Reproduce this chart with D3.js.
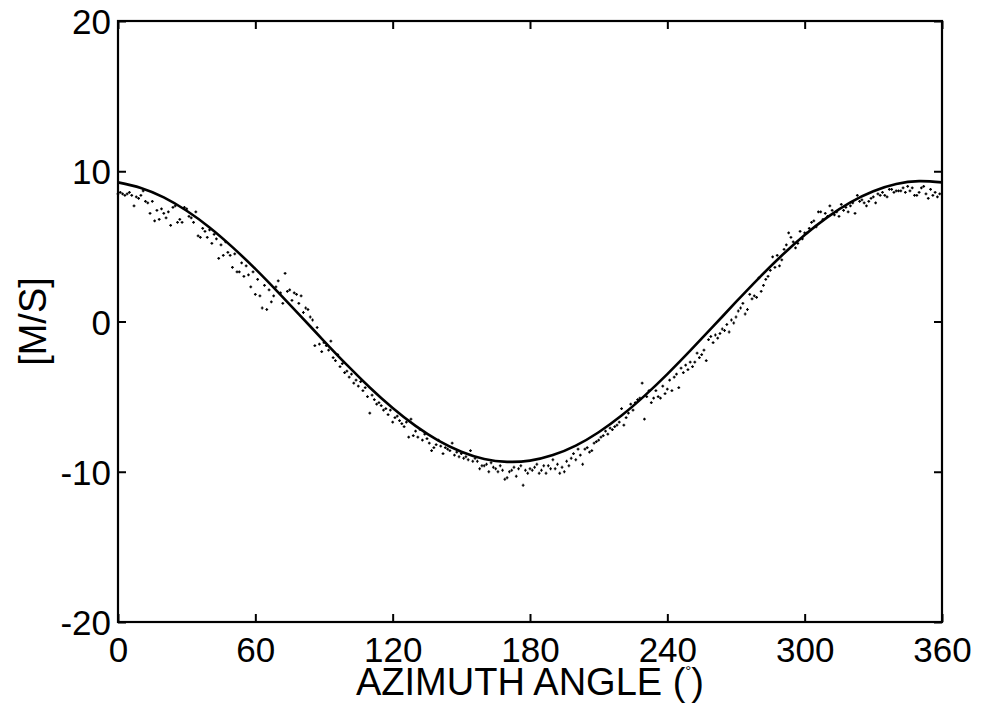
<!DOCTYPE html>
<html lang="en">
<head>
<meta charset="UTF-8">
<title>Azimuth angle vs velocity</title>
<script src="https://d3js.org/d3.v7.min.js"></script>
<style>
body { margin: 0; background: #fff; }
svg { display: block; font-family: "Liberation Sans", Arial, sans-serif; }
.tick-label { font-size: 35px; fill: #000; }
.axis-title { font-size: 38px; fill: #000; }
</style>
</head>
<body>
<svg width="989" height="705"></svg>
<script>
// tick values
const xTicks = [0, 60, 120, 180, 240, 300, 360];
const yTicks = [-20, -10, 0, 10, 20];

// fitted curve, read every 10 degrees (0..360)
const curveAngles = d3.range(0, 361, 10);
const curveValues = [
  9.26, 8.89, 8.26, 7.37, 6.26, 4.95, 3.50, 1.94, 0.33, -1.30,
  -2.89, -4.39, -5.76, -6.95, -7.93, -8.67, -9.15, -9.34, -9.26, -8.89,
  -8.26, -7.37, -6.26, -4.95, -3.50, -1.94, -0.33, 1.30, 2.89, 4.39,
  5.76, 6.95, 7.93, 8.67, 9.15, 9.34, 9.26
];

// measured points, one per degree (0..359)
const pointAngles = d3.range(0, 360, 1);
const pointValues = [
  8.5, 8.6, 8.5, 8.4, 8.5, 8.6, 8.4, 7.7, 8.3, 8.2,
  8.4, 8.7, 8.0, 7.9, 7.2, 8.0, 6.7, 7.4, 6.8, 7.5,
  7.2, 6.9, 7.3, 6.4, 7.6, 7.7, 6.6, 6.8, 6.6, 7.6,
  7.5, 7.0, 6.9, 6.6, 7.3, 5.7, 5.6, 6.2, 6.0, 5.6,
  6.1, 5.2, 5.8, 5.5, 4.2, 5.1, 4.4, 5.3, 4.6, 4.4,
  3.6, 4.5, 3.3, 3.3, 3.9, 3.0, 3.7, 3.1, 2.3, 3.3,
  1.8, 2.8, 1.7, 0.9, 2.4, 0.8, 2.1, 1.3, 1.7, 2.3,
  2.7, 1.9, 1.2, 3.2, 2.0, 2.1, 1.4, 1.9, 1.8, 1.2,
  1.7, 0.6, 0.9, 0.8, 0.3, 0.1, -1.6, -0.4, -1.5, -2.0,
  -1.4, -1.6, -1.9, -1.3, -2.4, -2.6, -2.2, -3.0, -2.8, -3.4,
  -3.3, -3.7, -3.5, -4.1, -3.9, -4.3, -4.0, -4.6, -4.4, -5.0,
  -6.1, -4.9, -5.2, -5.5, -5.4, -5.6, -5.9, -5.8, -6.2, -5.9,
  -6.7, -6.4, -6.3, -6.6, -6.8, -7.0, -6.7, -7.7, -6.5, -7.6,
  -7.3, -7.7, -7.2, -7.9, -7.5, -7.8, -8.1, -8.6, -8.4, -8.2,
  -7.9, -8.3, -8.8, -8.4, -8.5, -8.6, -8.1, -8.9, -8.7, -9.0,
  -8.8, -9.1, -9.0, -9.2, -8.6, -9.3, -9.1, -9.3, -9.8, -9.6,
  -9.6, -9.5, -10.0, -9.4, -9.7, -9.8, -10.0, -9.6, -9.9, -10.5,
  -10.4, -10.0, -9.9, -9.7, -10.3, -9.8, -9.6, -10.9, -9.9, -10.1,
  -9.8, -9.9, -9.7, -9.5, -10.1, -9.9, -9.6, -10.1, -9.6, -9.8,
  -9.2, -9.8, -9.5, -10.1, -9.7, -10.0, -9.3, -9.6, -9.1, -8.8,
  -9.2, -8.5, -8.9, -9.5, -8.5, -8.4, -8.7, -8.6, -8.1, -8.0,
  -7.9, -7.7, -7.6, -7.3, -7.5, -7.1, -7.2, -7.0, -6.9, -6.7,
  -5.8, -6.9, -6.4, -6.1, -5.5, -5.9, -5.4, -5.2, -5.1, -4.1,
  -6.5, -5.0, -4.6, -5.4, -5.1, -4.6, -5.0, -5.1, -4.3, -4.8,
  -4.5, -3.9, -4.6, -3.7, -3.5, -4.4, -3.1, -3.4, -2.9, -3.2,
  -2.7, -3.0, -2.7, -2.1, -2.4, -2.2, -1.9, -2.6, -1.2, -1.0,
  -1.4, -0.9, -1.1, -0.8, -0.5, -0.6, -0.2, -0.7, 0.1, -0.1,
  0.3, 0.7, 0.9, 1.2, 0.5, 0.8, 1.8, 1.5, 1.7, 1.6,
  2.9, 2.0, 2.4, 2.8, 3.0, 3.4, 4.3, 3.6, 4.4, 3.7,
  4.1, 4.8, 5.1, 5.9, 5.6, 5.3, 4.9, 5.2, 6.0, 5.5,
  5.9, 5.9, 6.2, 6.6, 6.7, 6.3, 7.3, 7.3, 6.8, 7.2,
  7.0, 7.7, 7.4, 7.1, 7.3, 7.0, 7.8, 7.4, 7.6, 7.3,
  7.7, 7.9, 7.2, 8.4, 8.0, 8.1, 7.9, 7.7, 8.0, 8.2,
  8.3, 7.9, 8.5, 8.4, 8.6, 8.4, 8.3, 8.8, 8.8, 8.6,
  8.7, 8.7, 8.7, 8.9, 8.6, 9.0, 8.7, 8.9, 8.4, 8.4,
  8.6, 8.9, 9.0, 8.5, 8.2, 8.8, 8.4, 8.6, 8.3, 8.5
];

const svg = d3.select("svg");
const plotLeft = 118, plotRight = 942, plotTop = 21, plotBottom = 622;

const x = d3.scaleLinear().domain([0, 360]).range([plotLeft, plotRight]);
const y = d3.scaleLinear().domain([-20, 20]).range([plotBottom, plotTop]);

// points
svg.append("g")
  .selectAll("path")
  .data(pointAngles.map((a, i) => [a, pointValues[i]]))
  .join("path")
    .attr("transform", d => `translate(${x(d[0])},${y(d[1])})`)
    .attr("d", "M-1.4,0H1.4M0,-1.4V1.4")
    .attr("stroke", "#000")
    .attr("stroke-width", 1.2);

// fitted curve
const line = d3.line()
  .x(d => x(d[0]))
  .y(d => y(d[1]))
  .curve(d3.curveNatural);

svg.append("path")
  .datum(curveAngles.map((a, i) => [a, curveValues[i]]))
  .attr("fill", "none")
  .attr("stroke", "#000")
  .attr("stroke-width", 2.6)
  .attr("d", line);

// axes: ticks inward on all four sides, plain hyphen for negatives
const tickLen = 8;
const plain = d => String(d);

function styleAxis(g) {
  g.select(".domain").remove();
  g.selectAll(".tick line").attr("stroke", "#000").attr("stroke-width", 2);
  g.selectAll(".tick text")
    .attr("class", "tick-label")
    .attr("font-size", null)
    .attr("font-family", null)
    .attr("fill", null);
}

svg.append("g")
  .attr("transform", `translate(0,${plotBottom})`)
  .call(d3.axisBottom(x).tickValues(xTicks).tickFormat(plain).tickSizeInner(-tickLen).tickSizeOuter(0))
  .call(styleAxis)
  .call(g => g.selectAll(".tick text").attr("y", 15).attr("dy", "0.71em"));

svg.append("g")
  .attr("transform", `translate(0,${plotTop})`)
  .call(d3.axisTop(x).tickValues(xTicks).tickSizeInner(-tickLen).tickSizeOuter(0).tickFormat(""))
  .call(styleAxis);

svg.append("g")
  .attr("transform", `translate(${plotLeft},0)`)
  .call(d3.axisLeft(y).tickValues(yTicks).tickFormat(plain).tickSizeInner(-tickLen).tickSizeOuter(0))
  .call(styleAxis)
  .call(g => g.selectAll(".tick text").attr("x", -7).attr("dy", "0.36em"));

svg.append("g")
  .attr("transform", `translate(${plotRight},0)`)
  .call(d3.axisRight(y).tickValues(yTicks).tickSizeInner(-tickLen).tickSizeOuter(0).tickFormat(""))
  .call(styleAxis);

// frame
svg.append("rect")
  .attr("x", plotLeft).attr("y", plotTop)
  .attr("width", plotRight - plotLeft).attr("height", plotBottom - plotTop)
  .attr("fill", "none")
  .attr("stroke", "#000")
  .attr("stroke-width", 2.2);

// axis titles
const xt = svg.append("text")
  .attr("class", "axis-title")
  .attr("x", (plotLeft + plotRight) / 2)
  .attr("y", 695)
  .attr("text-anchor", "middle");
xt.append("tspan").text("AZIMUTH ANGLE (");
xt.append("tspan").attr("font-size", 15).attr("dy", -19).text("°");
xt.append("tspan").attr("dy", 19).text(")");

svg.append("text")
  .attr("class", "axis-title")
  .attr("transform", `translate(46,${(plotTop + plotBottom) / 2}) rotate(-90)`)
  .attr("text-anchor", "middle")
  .text("[M/S]");
</script>
</body>
</html>
